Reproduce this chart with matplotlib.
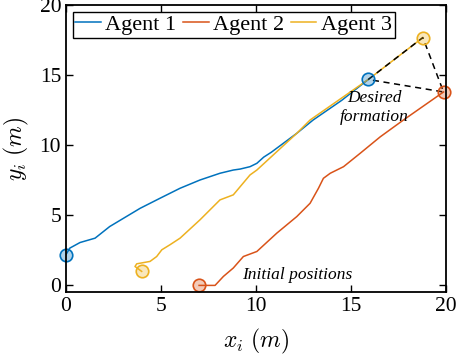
import matplotlib.pyplot as plt
from matplotlib.colors import to_rgba

plt.rcParams['font.family'] = ['Liberation Serif', 'DejaVu Serif']
plt.rcParams['mathtext.fontset'] = 'cm'

# trajectories (x, y in m)
agent1_x = [0.0, 0.2, 0.74, 1.53, 2.3, 3.9, 4.95, 6.0, 7.05, 8.1, 8.8, 9.16, 9.68, 10.04, 10.4,
            10.8, 12.14, 13.0, 14.5, 15.9]
agent1_y = [2.2, 2.66, 3.06, 3.37, 4.2, 5.5, 6.22, 6.93, 7.52, 8.0, 8.23, 8.3, 8.47, 8.71, 9.15,
            9.5, 10.85, 11.8, 13.2, 14.69]

agent2_x = [7.0, 7.84, 8.28, 8.8, 9.33, 10.04, 11.09, 12.14, 12.84, 13.28, 13.54, 13.9, 14.6,
            15.47, 16.53, 17.75, 19.86]
agent2_y = [0.0, 0.0, 0.64, 1.24, 2.06, 2.42, 3.73, 4.91, 5.86, 6.93, 7.64, 8.0, 8.47,
            9.42, 10.6, 11.8, 13.8]

agent3_x = [3.98, 3.63, 3.72, 4.42, 4.77, 5.04, 5.47, 6.0, 7.05, 8.1, 8.8, 9.68, 10.04,
            12.14, 12.84, 15.9, 18.77]
agent3_y = [1.0, 1.35, 1.54, 1.71, 2.06, 2.54, 2.9, 3.37, 4.68, 6.1, 6.46, 7.88, 8.23,
            10.85, 11.8, 14.69, 17.68]

labels = ['Agent 1', 'Agent 2', 'Agent 3']
colors = ['#0072BD', '#D95319', '#EDB120']
trajs = [(agent1_x, agent1_y), (agent2_x, agent2_y), (agent3_x, agent3_y)]

fig = plt.figure(figsize=(4.57, 3.61), dpi=100)
ax = fig.add_axes([0.1444, 0.190, 0.832, 0.796])

for (xs, ys), c, lab in zip(trajs, colors, labels):
    ax.plot(xs, ys, color=c, lw=1.1, label=lab)

# desired formation triangle (final positions)
fx = [agent1_x[-1], agent3_x[-1], agent2_x[-1], agent1_x[-1]]
fy = [agent1_y[-1], agent3_y[-1], agent2_y[-1], agent1_y[-1]]
ax.plot(fx, fy, 'k--', lw=1.1, dashes=(4, 3))

# start and end markers
for (xs, ys), c in zip(trajs, colors):
    for i in (0, -1):
        ax.plot(xs[i], ys[i], 'o', ms=9, mec=c, mfc=to_rgba(c, 0.3), mew=1.2, clip_on=False)

ax.text(16.2, 13.34, 'Desired', fontsize=12.5, style='italic', ha='center', va='center')
ax.text(16.2, 12.03, 'formation', fontsize=12.5, style='italic', ha='center', va='center')
ax.text(9.25, 0.76, 'Initial positions', fontsize=12.5, style='italic', ha='left', va='center')

ax.set_xlim(0, 20)
ax.set_ylim(-0.5, 20)
ax.set_xticks([0, 5, 10, 15, 20])
ax.set_yticks([0, 5, 10, 15, 20])
ax.tick_params(direction='in', top=True, right=True, labelsize=15.5, width=1.0, length=5)
for s in ax.spines.values():
    s.set_linewidth(1.3)

ax.set_xlabel(r'$x_i\ (m)$', fontsize=17, labelpad=8)
ax.set_ylabel(r'$y_i\ (m)$', fontsize=17, labelpad=6)

leg = ax.legend(loc='upper left', ncol=3, fontsize=16, handlelength=1.15, handletextpad=0.2,
                columnspacing=0.3, borderpad=0.12, borderaxespad=0.3, fancybox=False,
                framealpha=1, edgecolor='black')
leg.get_frame().set_linewidth(1.0)

fig.savefig('out.png', dpi=100)
